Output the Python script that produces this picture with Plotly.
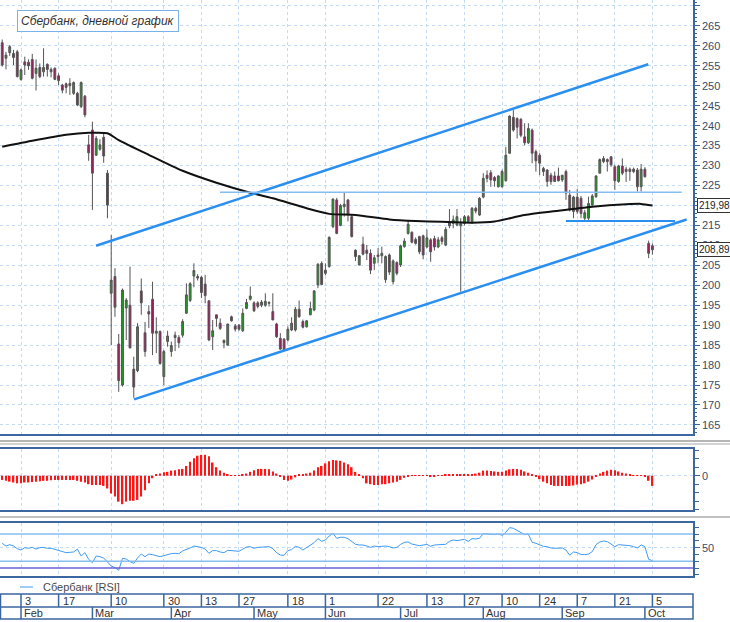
import pandas as pd
import plotly.graph_objects as go

W, H = 730, 622

# Moscow exchange trading days, 27 Jan - 5 Oct 2020 (weekends and holidays skipped)
HOLIDAYS = ["2020-02-24", "2020-03-09", "2020-05-01", "2020-05-11",
            "2020-06-12", "2020-06-24", "2020-07-01"]
dates = [d for d in pd.bdate_range("2020-01-27", "2020-10-05")
         if d.strftime("%Y-%m-%d") not in HOLIDAYS]
idx = list(range(len(dates)))

# daily candles
opens = [
    260.8, 256.9, 258.3, 258.1, 258.5, 251.6, 256.0, 255.9, 256.6, 253.1,
    254.6, 253.5, 255.4, 254.1, 254.4, 252.5, 250.2, 250.5, 250.0, 248.1,
    248.1, 244.8, 247.4, 235.2, 238.9, 232.6, 234.1, 237.1, 228.1, 198.0,
    202.2, 185.3, 175.0, 194.3, 195.0, 179.0, 178.6, 198.6, 188.1, 193.4,
    196.5, 188.0, 188.4, 177.1, 185.9, 183.4, 187.5, 186.9, 187.5, 193.0,
    196.2, 202.3, 202.2, 202.0, 200.3, 196.1, 187.1, 192.6, 190.5, 185.6,
    185.0, 192.1, 189.8, 190.0, 188.6, 194.2, 196.5, 195.6, 195.6, 195.0,
    195.0, 195.7, 193.4, 190.3, 186.7, 186.5, 186.3, 188.8, 188.8, 194.0,
    190.9, 189.6, 192.6, 193.8, 200.1, 205.5, 203.0, 204.7, 214.7, 221.4,
    215.0, 219.7, 221.4, 217.2, 208.8, 205.1, 210.3, 208.8, 208.0, 205.5,
    207.6, 207.4, 201.4, 207.6, 200.9, 205.7, 205.1, 209.7, 213.0, 213.3,
    211.5, 212.2, 212.4, 209.6, 211.4, 211.7, 209.6, 211.9, 210.1, 214.9,
    215.5, 215.1, 214.9, 215.5, 217.2, 215.9, 219.3, 217.6, 222.1, 227.6,
    228.2, 227.0, 224.7, 224.7, 226.2, 233.1, 242.1, 241.8, 241.6, 237.2,
    235.7, 238.9, 233.5, 232.6, 229.3, 228.9, 227.6, 227.4, 227.4, 226.4,
    228.5, 222.6, 218.5, 222.1, 221.8, 216.8, 216.8, 220.1, 222.2, 228.1,
    231.8, 231.5, 232.2, 229.7, 226.0, 229.9, 229.1, 229.1, 229.1, 228.9,
    224.7, 229.1, 210.5, 209.9,
]
highs = [
    261.6, 258.5, 260.2, 259.0, 259.0, 254.3, 257.3, 256.6, 258.0, 256.6,
    255.6, 259.4, 255.6, 254.6, 254.6, 253.1, 250.5, 250.8, 251.9, 251.1,
    248.5, 251.1, 247.7, 237.7, 241.0, 237.4, 236.6, 238.1, 228.9, 212.6,
    204.3, 187.8, 199.2, 196.8, 204.7, 182.1, 190.5, 201.7, 190.8, 195.0,
    200.9, 192.0, 188.7, 183.8, 188.6, 185.9, 188.4, 187.5, 191.5, 200.5,
    200.8, 205.5, 202.8, 202.4, 202.6, 196.2, 191.3, 192.6, 191.7, 186.4,
    190.3, 192.4, 190.3, 190.3, 194.2, 196.6, 199.7, 196.0, 196.0, 196.3,
    198.0, 196.0, 198.0, 190.6, 188.0, 186.8, 189.7, 192.0, 194.6, 196.2,
    191.4, 191.3, 195.9, 198.8, 205.5, 206.0, 205.5, 212.3, 221.8, 221.9,
    220.4, 223.3, 221.6, 217.6, 209.0, 207.6, 212.2, 210.1, 209.0, 207.6,
    209.3, 209.7, 207.5, 208.0, 206.5, 206.0, 210.2, 211.8, 216.4, 213.5,
    212.0, 212.4, 212.7, 214.0, 211.8, 212.4, 212.1, 212.4, 214.6, 219.1,
    217.5, 219.1, 216.8, 217.6, 217.6, 219.6, 219.7, 222.1, 228.1, 228.8,
    228.9, 227.4, 227.6, 229.0, 234.7, 242.6, 243.9, 242.1, 241.9, 240.6,
    240.6, 239.3, 234.0, 233.1, 229.7, 229.1, 228.2, 228.5, 229.5, 227.6,
    229.0, 223.9, 222.4, 224.1, 222.4, 218.9, 222.2, 222.9, 227.6, 231.8,
    232.4, 231.8, 232.4, 230.2, 230.2, 231.8, 229.7, 229.5, 229.5, 229.4,
    230.4, 229.6, 211.2, 210.5,
]
lows = [
    254.8, 254.1, 257.5, 255.2, 252.1, 251.3, 252.7, 254.0, 251.6, 248.8,
    251.9, 252.3, 252.3, 252.1, 251.4, 250.2, 248.1, 248.1, 247.7, 247.7,
    244.9, 244.4, 242.1, 231.2, 218.9, 232.4, 233.7, 230.7, 216.8, 185.0,
    192.1, 173.3, 174.6, 186.3, 184.2, 171.8, 178.2, 192.6, 182.1, 189.3,
    182.5, 183.0, 180.1, 175.0, 184.6, 182.1, 183.5, 184.3, 186.9, 192.8,
    195.8, 199.5, 201.2, 196.8, 195.5, 186.0, 183.8, 189.6, 188.8, 184.2,
    184.9, 190.9, 188.4, 188.6, 188.3, 194.0, 196.2, 193.3, 194.2, 194.5,
    194.6, 194.7, 191.3, 186.8, 183.9, 183.5, 185.9, 188.5, 188.4, 191.9,
    189.2, 189.4, 192.5, 193.5, 199.3, 200.0, 202.5, 204.4, 214.3, 212.8,
    214.8, 217.2, 216.0, 212.0, 206.1, 205.0, 207.5, 206.3, 202.8, 203.8,
    205.5, 205.5, 200.6, 202.6, 200.2, 202.5, 204.6, 209.4, 212.7, 210.5,
    210.2, 207.8, 206.5, 209.3, 205.9, 208.7, 209.3, 210.2, 209.8, 214.3,
    214.3, 214.8, 198.4, 215.0, 215.6, 215.4, 218.0, 217.4, 221.8, 225.8,
    224.7, 224.7, 224.5, 224.5, 226.0, 233.0, 238.5, 236.8, 237.1, 235.1,
    235.4, 230.6, 228.5, 227.6, 227.4, 224.7, 225.2, 226.0, 226.0, 225.9,
    221.4, 218.5, 216.8, 217.9, 216.8, 216.3, 216.2, 219.9, 221.9, 228.1,
    230.6, 228.5, 229.7, 223.9, 225.7, 227.6, 225.9, 226.2, 228.1, 223.5,
    223.5, 227.0, 206.8, 207.7,
]
closes = [
    255.2, 257.7, 259.8, 257.1, 252.3, 254.0, 255.2, 255.0, 251.9, 254.4,
    252.3, 254.6, 254.1, 253.5, 251.6, 251.3, 248.9, 249.6, 250.6, 250.8,
    245.2, 250.8, 242.7, 233.2, 228.1, 236.8, 235.2, 232.4, 220.1, 201.3,
    194.5, 176.1, 198.8, 196.3, 184.3, 174.5, 189.6, 195.6, 183.4, 192.8,
    188.0, 188.5, 180.4, 183.4, 187.3, 184.9, 186.9, 185.6, 190.9, 197.6,
    200.4, 203.7, 201.8, 198.2, 197.4, 186.3, 188.6, 191.7, 189.2, 186.2,
    190.3, 191.1, 189.0, 189.0, 193.0, 195.7, 197.3, 193.6, 194.7, 195.8,
    196.0, 195.5, 191.3, 187.1, 184.0, 183.8, 189.0, 190.5, 194.0, 192.1,
    189.5, 191.1, 194.2, 198.6, 205.3, 200.2, 203.8, 212.0, 221.6, 213.0,
    220.0, 220.3, 217.8, 212.2, 207.2, 207.4, 207.8, 208.0, 203.8, 206.9,
    207.2, 208.0, 207.2, 203.3, 206.1, 203.0, 209.9, 211.1, 215.3, 210.8,
    210.5, 208.4, 207.6, 211.9, 208.4, 209.6, 211.4, 211.0, 214.0, 215.7,
    216.4, 217.2, 215.5, 217.2, 216.0, 219.3, 218.6, 221.8, 226.8, 226.8,
    226.4, 226.2, 227.4, 228.5, 232.6, 242.4, 238.9, 239.6, 237.6, 235.7,
    239.3, 233.1, 231.2, 230.6, 228.5, 226.0, 226.0, 226.0, 226.2, 227.6,
    223.1, 218.9, 222.1, 218.5, 218.0, 218.2, 220.5, 222.4, 227.4, 231.5,
    231.0, 231.0, 230.2, 226.2, 229.9, 228.1, 228.5, 228.5, 228.5, 224.7,
    229.1, 227.2, 208.0, 208.89,
]

# long moving average (black line), read at points along the curve
ma_idx = [0, 8, 17, 23, 28, 31, 39, 48, 57, 66, 72, 81, 87, 94, 103, 110,
          117, 125, 131, 139, 148, 157, 166, 170, 173]
ma_val = [234.7, 236.2, 237.7, 238.2, 238.1, 236.4, 232.7, 228.7, 225.7,
          223.2, 221.8, 219.3, 217.9, 217.6, 216.5, 216.1, 215.9, 215.7,
          216.0, 217.6, 218.7, 219.7, 220.3, 220.4, 219.98]

# hand-drawn lines: (start index, end index), (start price, end price)
upper_channel = ([24.96, 171.9], [209.9, 255.4])
lower_channel = ([35.07, 182.1], [171.4, 216.5])
resistance = ([57.95, 180.8], [223.3, 223.3])
support = ([150.0, 179.0], [216.1, 216.1])

# oscillator histogram
macd_hist = [
    -1.0, -1.2, -1.4, -1.6, -1.8, -1.8, -1.6, -1.6, -1.5, -1.4,
    -1.3, -1.2, -1.2, -1.1, -1.0, -1.0, -1.0, -1.0, -1.0, -1.0,
    -1.2, -1.4, -1.6, -2.0, -2.2, -2.2, -2.2, -2.4, -3.0, -4.2,
    -4.9, -6.1, -6.7, -6.1, -5.9, -5.9, -5.7, -4.9, -3.4, -1.8,
    -0.6, 0.3, 0.5, 0.8, 0.9, 1.2, 1.3, 1.5, 1.6, 2.3,
    3.3, 4.1, 4.7, 4.9, 4.9, 4.6, 3.1, 2.0, 1.2, 0.7,
    0.2, 0.1, 0.1, 0.1, 0.2, 0.5, 0.9, 1.3, 1.6, 1.6,
    1.6, 1.5, 1.0, 0.5, -0.1, -1.0, -1.2, -0.9, -0.4, 0.2,
    0.3, 0.5, 0.7, 1.2, 2.0, 2.3, 2.9, 3.4, 3.7, 3.6,
    3.5, 3.1, 2.7, 2.0, 0.9, 0.4, -0.6, -1.8, -2.0, -2.2,
    -2.2, -2.0, -2.0, -1.8, -1.6, -1.4, -1.0, -0.5, -0.2, 0.1,
    0.1, 0.1, 0.1, 0.1, -0.1, -0.1, 0.1, 0.1, 0.2, 0.2,
    0.3, 0.3, 0.3, 0.3, 0.4, 0.4, 0.5, 0.7, 1.2, 1.2,
    1.1, 1.0, 0.9, 0.9, 1.2, 1.5, 1.6, 1.6, 1.4, 1.0,
    0.7, 0.2, -0.2, -0.8, -1.4, -1.8, -2.2, -2.4, -2.4, -2.4,
    -2.4, -2.4, -2.3, -2.1, -2.0, -1.8, -1.4, -0.9, -0.2, 0.5,
    0.9, 1.2, 1.4, 1.3, 1.0, 0.7, 0.5, 0.3, 0.1, 0.1,
    0.1, -0.1, -1.2, -2.4,
]

# RSI
rsi = [
    56.4, 52.5, 54.4, 52.5, 48.6, 46.6, 50.0, 49.1, 50.5, 48.0,
    50.0, 50.5, 49.1, 49.1, 47.6, 46.2, 43.7, 42.7, 43.2, 43.7,
    48.0, 37.8, 42.7, 32.9, 28.0, 37.8, 36.8, 34.9, 29.0, 23.1,
    20.7, 16.8, 34.4, 33.4, 29.5, 27.0, 34.9, 40.7, 36.8, 40.7,
    39.7, 38.3, 36.8, 38.3, 40.2, 41.2, 41.7, 41.2, 45.2, 47.1,
    49.6, 52.5, 51.5, 50.5, 48.0, 41.7, 45.7, 45.7, 43.7, 42.7,
    46.2, 45.7, 44.7, 44.7, 48.0, 51.0, 51.5, 49.1, 50.5, 50.5,
    51.0, 51.5, 48.6, 42.7, 39.2, 38.8, 45.7, 47.1, 52.0, 50.5,
    46.6, 50.0, 53.5, 57.4, 63.3, 59.4, 61.3, 67.2, 71.2, 63.8,
    65.3, 65.3, 63.3, 59.4, 55.0, 54.0, 54.0, 52.5, 50.5, 52.5,
    51.5, 52.0, 52.5, 51.5, 49.6, 50.5, 54.9, 57.9, 58.4, 55.4,
    54.4, 53.0, 53.9, 54.9, 52.0, 53.9, 54.4, 54.4, 54.9, 59.4,
    61.3, 60.4, 61.3, 62.3, 59.4, 63.3, 62.8, 63.8, 70.7, 70.2,
    69.7, 69.2, 70.2, 68.2, 72.6, 79.5, 78.5, 75.1, 71.7, 69.2,
    69.7, 57.9, 56.4, 54.4, 52.0, 51.5, 49.6, 49.1, 49.1, 49.6,
    46.6, 38.8, 43.7, 42.7, 40.2, 39.7, 40.7, 44.2, 54.4, 58.4,
    59.9, 58.9, 55.4, 51.5, 54.4, 54.0, 52.5, 53.0, 51.5, 49.6,
    54.0, 51.5, 32.9, 30.9,
]
rsi_levels = [70, 30]
rsi_floor = 20

# date scale
day_ticks = ["2020-02-03", "2020-02-17", "2020-03-10", "2020-03-30",
             "2020-04-13", "2020-04-27", "2020-05-18", "2020-06-01",
             "2020-06-22", "2020-07-13", "2020-07-27", "2020-08-10",
             "2020-08-24", "2020-09-07", "2020-09-21", "2020-10-05"]
month_names = ["Feb", "Mar", "Apr", "May", "Jun", "Jul", "Aug", "Sep", "Oct"]

# price labels on the right (220 sits under the MA value box)
price_ticks = list(range(165, 271, 5))

TITLE = "Сбербанк, дневной график"
LEGEND = "Сбербанк [RSI]"

# colours
FRAME = "#3b66a0"
GRID = "#c3daf3"
LABEL = "#3a4c66"
UP = "#1c9e1c"
DOWN = "#a3175d"
WICK = "#555555"
CHANNEL = "#2b8ff0"
LIGHT = "#86bdf0"
RSI_C = "#3f9bf2"
FONT = "Liberation Sans"


def pxx(px):
    return px / W


def pxy(py):
    return 1 - py / H


date_str = [d.strftime("%Y-%m-%d") for d in dates]
tick_idx = [date_str.index(d) for d in day_ticks]
tick_txt = [str(int(d[-2:])) for d in day_ticks]
month_idx = []
for i, d in enumerate(dates):
    if i > 0 and d.month != dates[i - 1].month:
        month_idx.append(i)

XR = [-0.59, 183.8]
XDOM = [0, pxx(693)]

fig = go.Figure()

fig.add_trace(go.Candlestick(
    x=idx, open=opens, high=highs, low=lows, close=closes,
    increasing=dict(fillcolor=UP, line=dict(color=WICK, width=1)),
    decreasing=dict(fillcolor=DOWN, line=dict(color=WICK, width=1)),
    whiskerwidth=0, hoverinfo="skip",
))
fig.add_trace(go.Scatter(x=ma_idx, y=ma_val, mode="lines",
                         line=dict(color="#111111", width=2, shape="spline", smoothing=0.6)))
for (lx, ly), col, wd in [(upper_channel, CHANNEL, 2.5), (lower_channel, CHANNEL, 2.5),
                          (resistance, LIGHT, 1.6), (support, CHANNEL, 2)]:
    fig.add_trace(go.Scatter(x=lx, y=ly, mode="lines", line=dict(color=col, width=wd)))

fig.add_trace(go.Bar(x=idx, y=macd_hist, marker=dict(color="#ff1515", line=dict(width=0)),
                     width=0.42, xaxis="x2", yaxis="y2"))
fig.add_trace(go.Scatter(x=idx, y=rsi, mode="lines", line=dict(color=RSI_C, width=1),
                         xaxis="x3", yaxis="y3"))

xcommon = dict(range=XR, domain=XDOM, tickvals=tick_idx, showticklabels=False,
               showgrid=True, gridcolor=GRID, griddash="dot", gridwidth=1,
               zeroline=False, showline=True, mirror=True, linecolor=FRAME,
               linewidth=1.5, ticks="", automargin=False)
ycommon = dict(side="right", showline=True, mirror=True, linecolor=FRAME, linewidth=1.5,
               ticks="outside", tickcolor=FRAME, ticklen=5, zeroline=False,
               showgrid=True, gridcolor=GRID, griddash="dot", gridwidth=1,
               automargin=False, tickfont=dict(family=FONT, size=11, color=LABEL))

fig.update_layout(
    template="none",
    width=W, height=H, margin=dict(l=0, r=0, t=0, b=0, pad=0),
    paper_bgcolor="white", plot_bgcolor="white", showlegend=False,
    xaxis=dict(xcommon, anchor="y", rangeslider=dict(visible=False)),
    yaxis=dict(ycommon, anchor="x", domain=[pxy(434), 1], range=[162.73, 271.5],
               tickmode="array", tickvals=price_ticks,
               ticktext=["" if v == 220 else str(v) for v in price_ticks],
               minor=dict(tickmode="linear", tick0=0, dtick=1, ticks="outside", ticklen=2,
                          tickcolor=FRAME, showgrid=False)),
    xaxis2=dict(xcommon, anchor="y2", matches="x"),
    yaxis2=dict(ycommon, anchor="x2", domain=[pxy(510), pxy(449)], range=[-8.07, 6.28],
                tickmode="array", tickvals=[0], ticktext=["0"],
                minor=dict(tickmode="linear", tick0=0, dtick=2, ticks="outside", ticklen=4,
                           tickcolor=FRAME, showgrid=False)),
    xaxis3=dict(xcommon, anchor="y3", matches="x"),
    yaxis3=dict(ycommon, anchor="x3", domain=[pxy(576), pxy(523)], range=[8.4, 86.3],
                tickmode="array", tickvals=[50], ticktext=["50"],
                minor=dict(tickmode="linear", tick0=0, dtick=10, ticks="outside", ticklen=4,
                           tickcolor=FRAME, showgrid=False)),
)

shapes = []
# RSI reference levels
for lv in rsi_levels:
    shapes.append(dict(type="line", xref="x3 domain", yref="y3", x0=0, x1=1, y0=lv, y1=lv,
                       line=dict(color=LIGHT, width=1.5)))
shapes.append(dict(type="line", xref="x3 domain", yref="y3", x0=0, x1=1,
                   y0=rsi_floor, y1=rsi_floor, line=dict(color="#6b5fd8", width=1.5)))
# panel separators
for py, col in [(441, "#9c9c9c"), (444, "#c4c4c4"), (517, "#acacac")]:
    shapes.append(dict(type="line", xref="paper", yref="paper", x0=0, x1=1,
                       y0=pxy(py), y1=pxy(py), line=dict(color=col, width=1.5)))
# date scale box
shapes.append(dict(type="rect", xref="paper", yref="paper", x0=pxx(0.5), x1=pxx(693),
                   y0=pxy(619), y1=pxy(594), line=dict(color=FRAME, width=1.5)))
shapes.append(dict(type="line", xref="paper", yref="paper", x0=pxx(0.5), x1=pxx(693),
                   y0=pxy(607), y1=pxy(607), line=dict(color=FRAME, width=1.5)))
for t in tick_idx:
    shapes.append(dict(type="line", xref="x", yref="paper", x0=t, x1=t,
                       y0=pxy(607), y1=pxy(594), line=dict(color=FRAME, width=1.5)))
for t in month_idx:
    shapes.append(dict(type="line", xref="x", yref="paper", x0=t, x1=t,
                       y0=pxy(619), y1=pxy(607), line=dict(color=FRAME, width=1.5)))
# legend sample
shapes.append(dict(type="line", xref="paper", yref="paper", x0=pxx(20), x1=pxx(33),
                   y0=pxy(587), y1=pxy(587), line=dict(color=RSI_C, width=1)))

annotations = []
for t, txt in zip(tick_idx, tick_txt):
    annotations.append(dict(x=t, y=pxy(600.5), xref="x", yref="paper", text=txt,
                            xanchor="left", yanchor="middle", xshift=2, showarrow=False,
                            font=dict(family=FONT, size=11, color="#333333")))
for t, m in zip(month_idx, month_names):
    annotations.append(dict(x=t, y=pxy(613), xref="x", yref="paper", text=m,
                            xanchor="left", yanchor="middle", xshift=1, showarrow=False,
                            font=dict(family=FONT, size=11, color="#333333")))
annotations.append(dict(x=pxx(41), y=pxy(587), xref="paper", yref="paper", text=LEGEND,
                        xanchor="left", yanchor="middle", showarrow=False,
                        font=dict(family=FONT, size=11, color="#4a4a4a")))
annotations.append(dict(x=pxx(17), y=pxy(9.5), xref="paper", yref="paper",
                        text="<i>" + TITLE + "</i>", xanchor="left", yanchor="top",
                        showarrow=False, bgcolor="white", bordercolor="#78b2ea",
                        borderwidth=1, borderpad=3,
                        font=dict(family=FONT, size=12, color="#333333")))
for val in [ma_val[-1], closes[-1]]:
    annotations.append(dict(x=pxx(697), y=val, xref="paper", yref="y",
                            text=f"{val:.2f}".replace(".", ","), xanchor="left",
                            yanchor="middle", showarrow=False, bgcolor="white",
                            bordercolor="#333333", borderwidth=1, borderpad=1,
                            font=dict(family=FONT, size=10, color="#222222")))

fig.update_layout(shapes=shapes, annotations=annotations)

# the page's default 8px body margin would push the fixed-size figure off the window
fig.write_html("out.html", config={"displayModeBar": False},
               post_script="document.body.style.margin='0';")
